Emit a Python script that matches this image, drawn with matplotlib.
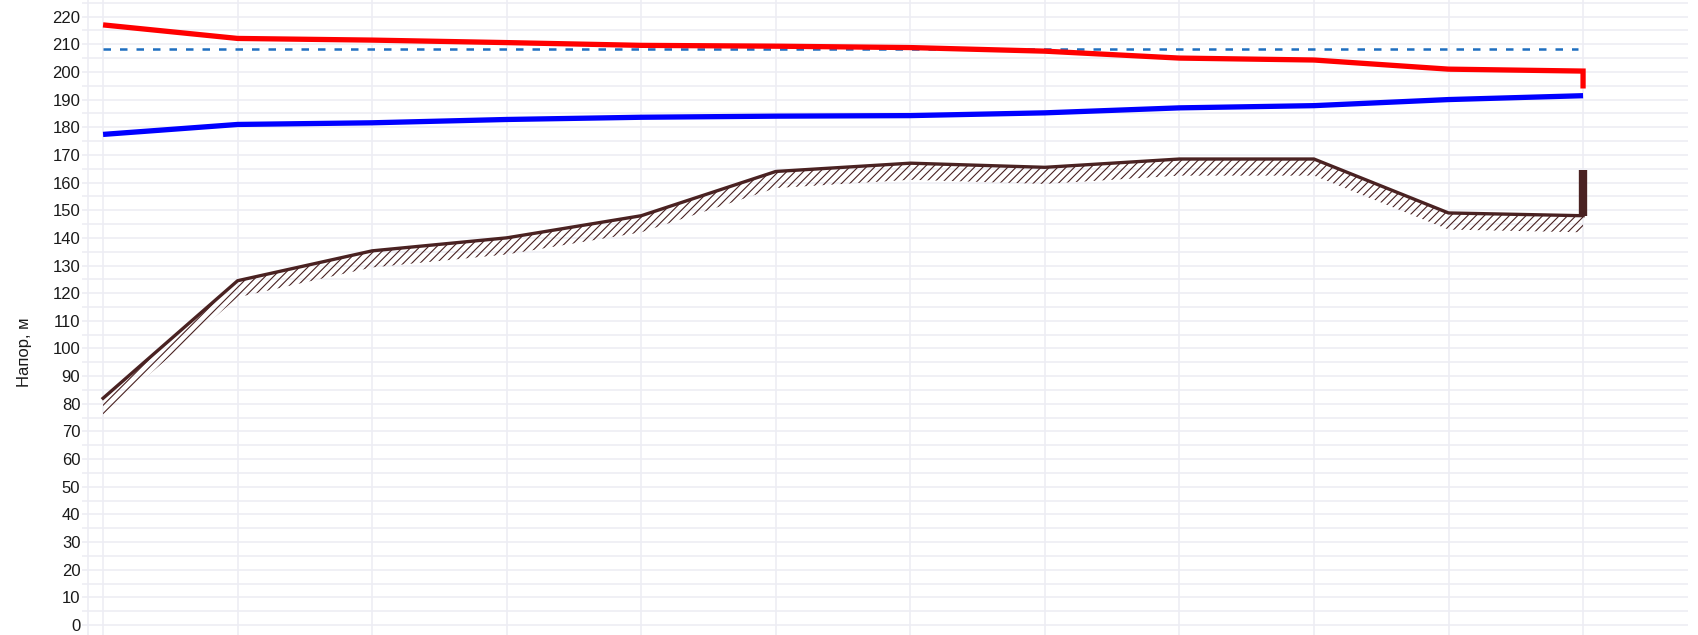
import numpy as np
import matplotlib
matplotlib.use("Agg")
import matplotlib.pyplot as plt
from matplotlib.ticker import MultipleLocator

# узлы трассы (позиции по горизонтали)
nodes = [0, 1, 2, 3, 4, 5, 6, 7, 8, 9, 10, 11]

# напор в подающем трубопроводе, м
supply_head = [217.0, 212.1, 211.5, 210.6, 209.6, 209.3, 208.8, 207.5, 205.0, 204.3, 201.0, 200.3]
supply_end = 194.0

# напор в обратном трубопроводе, м
return_head = [177.4, 181.0, 181.6, 182.8, 183.6, 184.0, 184.2, 185.2, 187.0, 187.8, 190.0, 191.4]

# геодезические отметки, м
ground = [82.0, 124.5, 135.3, 140.0, 148.0, 164.0, 167.0, 165.5, 168.5, 168.5, 149.0, 148.0]
ground_band = 6.0

# статический напор, м
static_head = 208.2

# потребитель в конце трассы
consumer_head = 164.5

grid_col = "#ededf4"
brown = "#4a2222"

plt.rcParams['font.family'] = ['Liberation Sans', 'DejaVu Sans']
plt.rcParams['hatch.linewidth'] = 0.8

fig = plt.figure(figsize=(16.98, 6.35), dpi=100)
ax = fig.add_axes([88 / 1698, 0, 1600 / 1698, 1])

x = np.array(nodes, dtype=float)
g = np.array(ground)

# грунт со штриховкой
ax.fill_between(x, g - ground_band, g, facecolor="none", edgecolor=brown,
                hatch="////", linewidth=0, zorder=2)
ax.plot(x, g, color=brown, lw=2.4, zorder=3)
ax.plot([x[-1], x[-1]], [g[-1], consumer_head], color=brown, lw=6,
        solid_capstyle="butt", zorder=3)

# статический напор
ax.plot([x[0], x[-1] - 0.04], [static_head, static_head], color="#1f6fc0",
        lw=1.8, dashes=(3.0, 3.6), zorder=3)

# подающий
ax.plot(list(x) + [x[-1]], supply_head + [supply_end], color="#ff0000", lw=3.8,
        solid_capstyle="butt", solid_joinstyle="miter", zorder=4)
# обратный
ax.plot(x, return_head, color="#0000ff", lw=3.8, solid_capstyle="butt", zorder=4)

ax.set_xlim(-0.112, 11.78)
ax.set_ylim(-3.6, 226)

ax.yaxis.set_major_locator(MultipleLocator(10))
ax.yaxis.set_minor_locator(MultipleLocator(5))
ax.xaxis.set_major_locator(MultipleLocator(1))
ax.grid(True, which="both", axis="y", color=grid_col, lw=1.2, zorder=0)
ax.grid(True, which="major", axis="x", color=grid_col, lw=1.2, zorder=0)
ax.set_axisbelow(True)

ax.tick_params(axis="y", which="both", length=4, width=1.2, color=grid_col,
               pad=1.5, labelsize=12, labelcolor="#1a1a1a")
ax.tick_params(axis="x", which="both", length=0, labelbottom=False)

for s in ["top", "right", "bottom"]:
    ax.spines[s].set_visible(False)
ax.spines["left"].set_color(grid_col)
ax.spines["left"].set_linewidth(1.2)

ax.set_ylabel("Напор, м", fontsize=12, color="#1a1a1a")
ax.yaxis.set_label_coords(-0.035, 0.445)

fig.savefig("out.png", dpi=100)
